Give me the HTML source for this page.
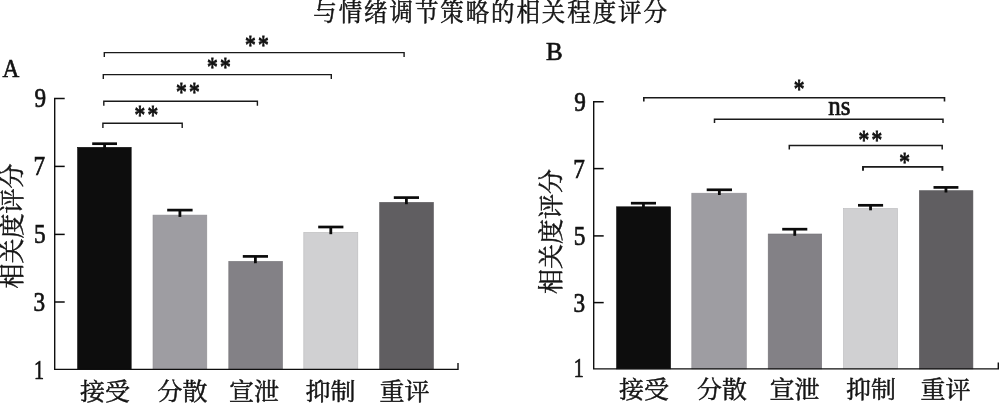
<!DOCTYPE html>
<html lang="zh"><head><meta charset="utf-8"><title>与情绪调节策略的相关程度评分</title>
<style>
html,body{margin:0;padding:0;background:#fff;}
body{width:1000px;height:403px;overflow:hidden;}
svg{display:block;}
svg text{font-family:"Liberation Serif","Noto Serif CJK SC",serif;font-size:25px;fill:#121212;stroke:#121212;stroke-width:0.65px;}
svg text.s{stroke-width:0.85px;}
svg text.c{stroke-width:0.5px;fill:#141414;stroke:#141414;}
</style></head><body>
<svg width="1000" height="403" viewBox="0 0 1000 403">
<rect width="1000" height="403" fill="#fff"/>
<text class="c" transform="translate(313.3,20.9) scale(0.94,1)" letter-spacing="2.03">与情绪调节策略的相关程度评分</text>
<text transform="translate(2.45,77.1) scale(0.93,1.03)">A</text>
<text x="546" y="60">B</text>
<rect x="77.60" y="147.30" width="53.60" height="222.10" fill="#0d0d0d" stroke="#0d0d0d" stroke-width="0.6"/>
<rect x="153.00" y="215.10" width="53.80" height="154.30" fill="#9e9da2" stroke="#8f8e93" stroke-width="0.6"/>
<rect x="228.80" y="261.40" width="53.70" height="108.00" fill="#838186" stroke="#747277" stroke-width="0.6"/>
<rect x="303.80" y="232.40" width="54.00" height="137.00" fill="#d0d0d2" stroke="#b9b9bb" stroke-width="0.6"/>
<rect x="379.70" y="202.40" width="53.70" height="167.00" fill="#605e61" stroke="#555356" stroke-width="0.6"/>
<line x1="92.2" y1="143.7" x2="117" y2="143.7" stroke="#0b0b0b" stroke-width="2.7"/>
<line x1="104.60" y1="143.7" x2="104.60" y2="149.10" stroke="#0b0b0b" stroke-width="2.8"/>
<line x1="167.2" y1="210.1" x2="192.6" y2="210.1" stroke="#0b0b0b" stroke-width="2.7"/>
<line x1="179.90" y1="210.1" x2="179.90" y2="216.90" stroke="#0b0b0b" stroke-width="2.8"/>
<line x1="242.8" y1="256.4" x2="268" y2="256.4" stroke="#0b0b0b" stroke-width="2.7"/>
<line x1="255.40" y1="256.4" x2="255.40" y2="263.20" stroke="#0b0b0b" stroke-width="2.8"/>
<line x1="318.2" y1="227" x2="343.4" y2="227" stroke="#0b0b0b" stroke-width="2.7"/>
<line x1="330.80" y1="227" x2="330.80" y2="234.20" stroke="#0b0b0b" stroke-width="2.8"/>
<line x1="393.8" y1="197.6" x2="419" y2="197.6" stroke="#0b0b0b" stroke-width="2.7"/>
<line x1="406.40" y1="197.6" x2="406.40" y2="204.20" stroke="#0b0b0b" stroke-width="2.8"/>
<path d="M64.7 98.55 H54.7 V369.4 H458 V362.9" fill="none" stroke="#0f0f0f" stroke-width="1.4"/>
<line x1="54.7" y1="166.40" x2="64.7" y2="166.40" stroke="#0a0a0a" stroke-width="1.5"/>
<line x1="54.7" y1="234.40" x2="64.7" y2="234.40" stroke="#0a0a0a" stroke-width="1.5"/>
<line x1="54.7" y1="302.00" x2="64.7" y2="302.00" stroke="#0a0a0a" stroke-width="1.5"/>
<text transform="translate(46.00,106.75) scale(0.93,1.06)" text-anchor="end">9</text>
<text transform="translate(45.00,174.70) scale(0.93,1.06)" text-anchor="end">7</text>
<text transform="translate(45.60,242.70) scale(0.93,1.06)" text-anchor="end">5</text>
<text transform="translate(45.20,310.85) scale(0.93,1.06)" text-anchor="end">3</text>
<text transform="translate(44.00,379.00) scale(0.8,1.06)" text-anchor="end">1</text>
<text class="c" transform="translate(105,399.7) scale(1,0.975)" text-anchor="middle">接受</text>
<text class="c" transform="translate(182.5,399.7) scale(1,0.975)" text-anchor="middle">分散</text>
<text class="c" transform="translate(254,399.7) scale(1,0.975)" text-anchor="middle">宣泄</text>
<text class="c" transform="translate(330.5,399.7) scale(1,0.975)" text-anchor="middle">抑制</text>
<text class="c" transform="translate(404.5,399.7) scale(1,0.975)" text-anchor="middle">重评</text>
<text transform="translate(20.5,226) rotate(-90)" class="c" text-anchor="middle">相关度评分</text>
<path d="M104.3 57.1 V52.6 H404.1 V57.1" fill="none" stroke="#1a1a1a" stroke-width="1.4"/>
<path d="M103.3 79.1 V74.6 H331.3 V79.1" fill="none" stroke="#1a1a1a" stroke-width="1.4"/>
<path d="M103.8 105.8 V101.3 H257.4 V105.8" fill="none" stroke="#1a1a1a" stroke-width="1.4"/>
<path d="M102.9 128.1 V123.3 H182.2 V128.1" fill="none" stroke="#1a1a1a" stroke-width="1.4"/>
<text transform="translate(257.90000000000003,54.0) scale(0.86,1.13)" class="s" text-anchor="middle" letter-spacing="2.6">**</text>
<text transform="translate(219.9,75.5) scale(0.86,1.13)" class="s" text-anchor="middle" letter-spacing="2.6">**</text>
<text transform="translate(189.1,101.0) scale(0.86,1.13)" class="s" text-anchor="middle" letter-spacing="2.6">**</text>
<text transform="translate(147.6,123.5) scale(0.86,1.13)" class="s" text-anchor="middle" letter-spacing="2.6">**</text>
<rect x="616.60" y="206.80" width="54.00" height="162.10" fill="#0d0d0d" stroke="#0d0d0d" stroke-width="0.6"/>
<rect x="691.80" y="193.20" width="54.50" height="175.70" fill="#9e9da2" stroke="#8f8e93" stroke-width="0.6"/>
<rect x="768.20" y="234.00" width="53.50" height="134.90" fill="#838186" stroke="#747277" stroke-width="0.6"/>
<rect x="843.50" y="208.50" width="54.00" height="160.40" fill="#d0d0d2" stroke="#b9b9bb" stroke-width="0.6"/>
<rect x="919.40" y="190.70" width="53.50" height="178.20" fill="#605e61" stroke="#555356" stroke-width="0.6"/>
<line x1="630.9" y1="203.2" x2="656" y2="203.2" stroke="#0b0b0b" stroke-width="2.7"/>
<line x1="643.45" y1="203.2" x2="643.45" y2="208.60" stroke="#0b0b0b" stroke-width="2.8"/>
<line x1="706.7" y1="189.8" x2="732" y2="189.8" stroke="#0b0b0b" stroke-width="2.7"/>
<line x1="719.35" y1="189.8" x2="719.35" y2="195.00" stroke="#0b0b0b" stroke-width="2.8"/>
<line x1="782.2" y1="229.2" x2="807.3" y2="229.2" stroke="#0b0b0b" stroke-width="2.7"/>
<line x1="794.75" y1="229.2" x2="794.75" y2="235.80" stroke="#0b0b0b" stroke-width="2.8"/>
<line x1="858" y1="205.3" x2="883.1" y2="205.3" stroke="#0b0b0b" stroke-width="2.7"/>
<line x1="870.55" y1="205.3" x2="870.55" y2="210.30" stroke="#0b0b0b" stroke-width="2.8"/>
<line x1="933.5" y1="187.4" x2="958.4" y2="187.4" stroke="#0b0b0b" stroke-width="2.7"/>
<line x1="945.95" y1="187.4" x2="945.95" y2="192.50" stroke="#0b0b0b" stroke-width="2.8"/>
<path d="M603.7 101.8 H593.7 V368.9 H998.3 V362.4" fill="none" stroke="#0f0f0f" stroke-width="1.4"/>
<line x1="593.7" y1="168.60" x2="603.7" y2="168.60" stroke="#0a0a0a" stroke-width="1.5"/>
<line x1="593.7" y1="235.90" x2="603.7" y2="235.90" stroke="#0a0a0a" stroke-width="1.5"/>
<line x1="593.7" y1="302.60" x2="603.7" y2="302.60" stroke="#0a0a0a" stroke-width="1.5"/>
<text transform="translate(585.80,110.55) scale(0.93,1.06)" text-anchor="end">9</text>
<text transform="translate(584.80,177.70) scale(0.93,1.06)" text-anchor="end">7</text>
<text transform="translate(585.40,244.60) scale(0.93,1.06)" text-anchor="end">5</text>
<text transform="translate(585.00,311.80) scale(0.93,1.06)" text-anchor="end">3</text>
<text transform="translate(583.80,377.15) scale(0.8,1.06)" text-anchor="end">1</text>
<text class="c" transform="translate(644,397.5) scale(1,0.945)" text-anchor="middle">接受</text>
<text class="c" transform="translate(722,397.5) scale(1,0.945)" text-anchor="middle">分散</text>
<text class="c" transform="translate(794.5,397.5) scale(1,0.945)" text-anchor="middle">宣泄</text>
<text class="c" transform="translate(871,397.5) scale(1,0.945)" text-anchor="middle">抑制</text>
<text class="c" transform="translate(945.5,397.5) scale(1,0.945)" text-anchor="middle">重评</text>
<text transform="translate(560,231.4) rotate(-90)" class="c" text-anchor="middle">相关度评分</text>
<path d="M643.8 101.5 V97.8 H944.5 V101.5" fill="none" stroke="#1a1a1a" stroke-width="1.6"/>
<path d="M714.5 122.9 V119.2 H943 V122.9" fill="none" stroke="#1a1a1a" stroke-width="1.5"/>
<path d="M789.3 149.4 V145.6 H942.2 V149.4" fill="none" stroke="#1a1a1a" stroke-width="1.5"/>
<path d="M863 170.70000000000002 V166.9 H942.4 V170.70000000000002" fill="none" stroke="#1a1a1a" stroke-width="1.9"/>
<text transform="translate(799.05,98.3) scale(0.86,1.13)" class="s" text-anchor="middle">*</text>
<text transform="translate(839.3,115.4) scale(1,1.08)" text-anchor="middle">ns</text>
<text transform="translate(871.5,148.8) scale(0.86,1.13)" class="s" text-anchor="middle" letter-spacing="2.6">**</text>
<text transform="translate(904.6,171.10000000000002) scale(0.86,1.13)" class="s" text-anchor="middle">*</text>
</svg></body></html>
